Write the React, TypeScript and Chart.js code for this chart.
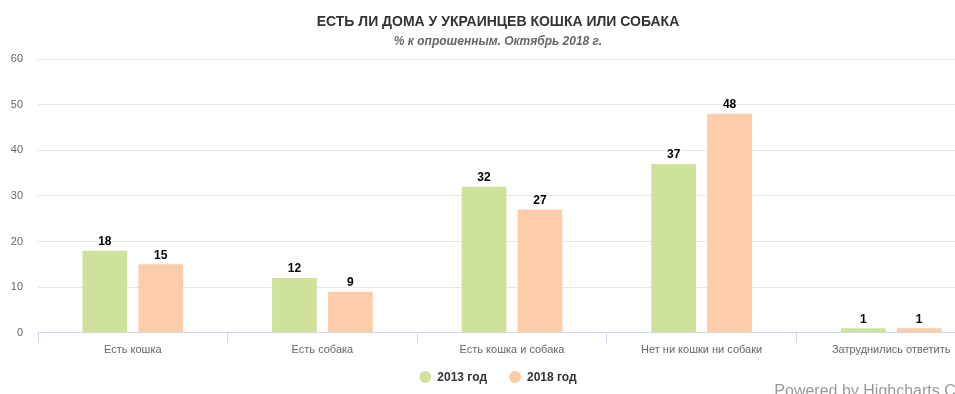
import React, { useEffect, useRef } from "react";
import { Chart, registerables } from "chart.js";

Chart.register(...registerables);

const title = "ЕСТЬ ЛИ ДОМА У УКРАИНЦЕВ КОШКА ИЛИ СОБАКА";
const subtitle = "% к опрошенным. Октябрь 2018 г.";
const credits = "Powered by Highcharts Cloud";

const categories = [
  "Есть кошка",
  "Есть собака",
  "Есть кошка и собака",
  "Нет ни кошки ни собаки",
  "Затруднились ответить",
];
const seriesNames = ["2013 год", "2018 год"];
const values2013 = [18, 12, 32, 37, 1];
const values2018 = [15, 9, 27, 48, 1];
const yTicks = [0, 10, 20, 30, 40, 50, 60];

const colors = ["#cfe29c", "#fdcca8"];
const FONT = "'Liberation Sans', Arial, Helvetica, sans-serif";

const dataLabels = {
  id: "dataLabels",
  afterDatasetsDraw(chart: any) {
    const ctx = chart.ctx;
    ctx.save();
    ctx.font = `bold 12px ${FONT}`;
    ctx.textAlign = "center";
    ctx.textBaseline = "bottom";
    chart.data.datasets.forEach((ds: any, i: number) => {
      const meta = chart.getDatasetMeta(i);
      meta.data.forEach((el: any, j: number) => {
        const v = ds.data[j];
        ctx.lineWidth = 3;
        ctx.strokeStyle = "#ffffff";
        ctx.lineJoin = "round";
        ctx.strokeText(String(v), el.x, el.y - 3);
        ctx.fillStyle = "#000000";
        ctx.fillText(String(v), el.x, el.y - 3);
      });
    });
    ctx.restore();
  },
};

const bottomLegend = {
  id: "bottomLegend",
  afterDraw(chart: any) {
    const ctx = chart.ctx;
    ctx.save();
    ctx.font = `bold 12px ${FONT}`;
    ctx.textBaseline = "middle";
    ctx.textAlign = "left";
    const r = 6;
    const gapText = 6;
    const gapItem = 22;
    const items = chart.data.datasets.map((ds: any) => ({
      text: ds.label,
      color: ds.backgroundColor,
      w: ctx.measureText(ds.label).width,
    }));
    const total =
      items.reduce((s: number, it: any) => s + 2 * r + gapText + it.w, 0) +
      gapItem * (items.length - 1);
    let x = chart.width / 2 - total / 2;
    const y = chart.height - 17;
    items.forEach((it: any) => {
      ctx.beginPath();
      ctx.arc(x + r, y, r, 0, Math.PI * 2);
      ctx.fillStyle = it.color;
      ctx.fill();
      ctx.fillStyle = "#333333";
      ctx.fillText(it.text, x + 2 * r + gapText, y + 0.5);
      x += 2 * r + gapText + it.w + gapItem;
    });
    ctx.restore();
  },
};

export default function App() {
  const ref = useRef<HTMLCanvasElement>(null);
  useEffect(() => {
    if (!ref.current) return;
    const chart = new Chart(ref.current, {
      type: "bar",
      data: {
        labels: categories,
        datasets: [
          { label: seriesNames[0], data: values2013, backgroundColor: colors[0] },
          { label: seriesNames[1], data: values2018, backgroundColor: colors[1] },
        ],
      },
      options: {
        animation: false,
        responsive: false,
        maintainAspectRatio: false,
        datasets: { bar: { categoryPercentage: 0.59, barPercentage: 0.8 } },
        layout: { padding: { top: 59, right: 10, left: 0, bottom: 36 } },
        plugins: {
          title: { display: false },
          tooltip: { enabled: false },
          legend: { display: false },
        },
        scales: {
          x: {
            grid: {
              drawOnChartArea: false,
              drawTicks: true,
              tickLength: 10,
              color: "#ccd6eb",
            },
            border: { display: true, color: "#ccd6eb" },
            ticks: {
              color: "#666666",
              font: { family: FONT, size: 11 },
              padding: 1,
              maxRotation: 0,
            },
          },
          y: {
            min: 0,
            max: 60,
            afterBuildTicks: (s: any) => {
              s.ticks = yTicks.map((v) => ({ value: v }));
            },
            afterFit: (s: any) => {
              s.width = 38;
            },
            grid: { color: "#e6e6e6", drawTicks: false },
            border: { display: false },
            ticks: {
              color: "#666666",
              font: { family: FONT, size: 11 },
              padding: 15,
            },
          },
        },
      },
      plugins: [dataLabels, bottomLegend],
    });
    return () => chart.destroy();
  }, []);

  return (
    <div
      style={{
        position: "absolute",
        left: 0,
        top: 0,
        width: 955,
        height: 394,
        overflow: "hidden",
        background: "#ffffff",
        fontFamily: FONT,
      }}
    >
      <div style={{ position: "absolute", left: 0, top: 0, width: 996, height: 394 }}>
        <canvas ref={ref} width={996} height={394} style={{ display: "block" }} />
      </div>
      <div
        style={{
          position: "absolute",
          left: 0,
          width: 996,
          top: 13,
          textAlign: "center",
          fontSize: 14,
          fontWeight: "bold",
          color: "#333333",
          lineHeight: "16px",
          whiteSpace: "nowrap",
        }}
      >
        {title}
      </div>
      <div
        style={{
          position: "absolute",
          left: 0,
          width: 996,
          top: 34,
          textAlign: "center",
          fontSize: 12,
          fontWeight: "bold",
          fontStyle: "italic",
          color: "#666666",
          lineHeight: "14px",
          whiteSpace: "nowrap",
        }}
      >
        {subtitle}
      </div>
      <div
        style={{
          position: "absolute",
          left: 0,
          width: 986,
          top: 382,
          textAlign: "right",
          fontSize: 16,
          color: "#999999",
          lineHeight: "18px",
          whiteSpace: "nowrap",
        }}
      >
        {credits}
      </div>
    </div>
  );
}
